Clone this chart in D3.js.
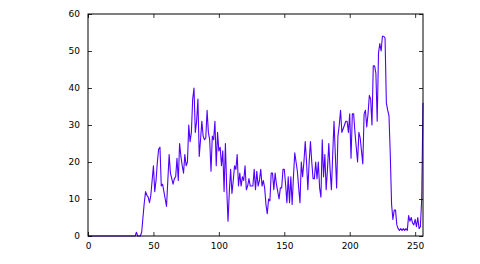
<!DOCTYPE html>
<html>
<head>
<meta charset="utf-8">
<script src="https://cdn.jsdelivr.net/npm/d3@7"></script>
<style>
  body { margin: 0; background: #fff; }
  svg { display: block; }
  .tick text { font-family: "DejaVu Sans", sans-serif; font-size: 9px; fill: #000; }
</style>
</head>
<body>
<div id="chart"></div>
<script>
var w = 480;
var h = 264;
var margin = {top: 14, right: 57, bottom: 28, left: 88};

// histogram counts for bins 0..255
var zeros = [0,0,0,0,0,0,0,0,0,0,0,0,0,0,0,0,0,0,0,0,0,0,0,0,0,0,0,0,0,0,0,0,0,0,0,0,0];
var counts = zeros.concat([
  1, 0, 0, 0, 1, 5, 9, 12, 11, 10.5, 9, 11, 15,
  19, 12, 15, 20, 23.5, 24, 13.5, 14, 12, 10, 8, 15, 22, 17, 15.5, 14, 15.5, 16, 21, 15,
  25, 21.5, 19, 17, 22, 19, 20, 30, 25.5, 28, 37, 40, 28, 31, 37, 21.5, 26, 31, 27, 26,
  26.5, 34, 28, 26, 17.5, 27, 26, 31, 19, 28, 23, 24, 19, 23, 12, 25, 13, 4, 12, 18,
  11.5, 15, 19, 18, 22, 13.5, 17, 13.5, 16, 15, 19, 12.5, 13.5, 15.5, 13.5, 13.5, 13.5,
  18, 12.5, 17.5, 13.5, 15, 18, 13.5, 15, 13, 8.5, 6, 10, 9.5, 17, 17, 12.5, 17, 14, 12,
  10, 13, 13, 18, 18, 14, 9, 16, 9, 16, 8.5, 16, 22.5, 20, 17.5, 13, 9, 20, 16, 20, 25.5,
  20, 12.5, 20, 25.5, 20, 15.5, 15.5, 20, 15.5, 20, 13, 10.5, 26, 16, 22, 12.5, 18, 25,
  18, 12.5, 22, 31, 22, 13, 27, 30, 34, 28, 29, 30, 31, 31, 28, 33, 21, 33, 33, 28, 24,
  20, 28, 26.5, 23, 19.5, 33, 34, 29.5, 33, 38, 37, 30, 46, 46, 44, 31, 49.5, 52, 50, 54,
  54, 53.5, 36, 34, 32.5, 22, 8.5, 4.5, 7, 7, 3, 2, 1.5, 2, 1.5, 2, 1.5, 2, 1.5, 5.5, 4,
  5, 3.5, 3, 4.5, 2.5, 5, 2, 2.5, 10, 36
]);

var xTicks = [0, 50, 100, 150, 200, 250];
var yTicks = [0, 10, 20, 30, 40, 50, 60];

var svg = d3.select("#chart")
            .append("svg")
            .attr("width", w)
            .attr("height", h);

var x = d3.scaleLinear()
          .domain([0, 256])
          .range([margin.left, w - margin.right]);

var y = d3.scaleLinear()
          .domain([0, 60])
          .range([h - margin.bottom, margin.top]);

var line = d3.line()
             .x(function(d, i) { return x(i); })
             .y(function(d) { return y(d); });

svg.append("path")
   .datum(counts)
   .attr("fill", "none")
   .attr("stroke", "#5200ff")
   .attr("stroke-width", 1.1)
   .attr("stroke-linejoin", "round")
   .attr("d", line);

// axes: ticks point inward, as in the classic style
function styleAxis(g) {
    g.select(".domain").remove();
    g.selectAll(".tick line").attr("stroke", "#000").attr("stroke-width", 0.8);
}

svg.append("g")
   .attr("transform", "translate(0," + y(0) + ")")
   .call(d3.axisBottom(x).tickValues(xTicks).tickSize(-4).tickPadding(7))
   .call(styleAxis);

svg.append("g")
   .attr("transform", "translate(0," + y(60) + ")")
   .call(d3.axisTop(x).tickValues(xTicks).tickSize(-4).tickFormat(""))
   .call(styleAxis);

svg.append("g")
   .attr("transform", "translate(" + x(0) + ",0)")
   .call(d3.axisLeft(y).tickValues(yTicks).tickSize(-4).tickPadding(8))
   .call(styleAxis);

svg.append("g")
   .attr("transform", "translate(" + x(256) + ",0)")
   .call(d3.axisRight(y).tickValues(yTicks).tickSize(-4).tickFormat(""))
   .call(styleAxis);

// frame
svg.append("rect")
   .attr("x", x(0))
   .attr("y", y(60))
   .attr("width", x(256) - x(0))
   .attr("height", y(0) - y(60))
   .attr("fill", "none")
   .attr("stroke", "#000")
   .attr("stroke-width", 1);
</script>
</body>
</html>
